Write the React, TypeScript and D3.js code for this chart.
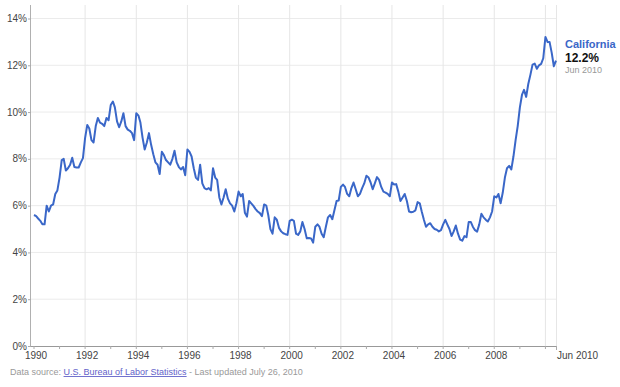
import React from "react";
import * as d3 from "d3";

// monthly unemployment rate, California (not seasonally adjusted), %
const rate1990 = [5.6, 5.55, 5.45, 5.35, 5.2, 5.2, 6.0, 5.75, 6.0, 6.05, 6.5, 6.65];
const rate1991 = [7.2, 7.95, 8.0, 7.5, 7.6, 7.75, 8.05, 7.65, 7.63, 7.63, 7.85, 8.03];
const rate1992 = [8.9, 9.45, 9.3, 8.8, 8.7, 9.4, 9.75, 9.55, 9.5, 9.4, 9.75, 9.65];
const rate1993 = [10.3, 10.45, 10.2, 9.6, 9.35, 9.6, 9.95, 9.4, 9.25, 9.2, 9.1, 8.8];
const rate1994 = [9.95, 9.85, 9.55, 8.9, 8.4, 8.7, 9.1, 8.6, 8.2, 7.85, 7.75, 7.35];
const rate1995 = [8.3, 8.15, 7.95, 7.85, 7.75, 8.0, 8.35, 7.85, 7.65, 7.55, 7.65, 7.3];
const rate1996 = [8.4, 8.3, 8.1, 7.6, 7.2, 7.1, 7.75, 6.95, 6.75, 6.7, 6.75, 6.65];
const rate1997 = [7.6, 7.2, 7.1, 6.35, 6.05, 6.35, 6.7, 6.3, 6.1, 6.0, 5.75, 6.1];
const rate1998 = [6.6, 6.4, 6.5, 5.7, 5.53, 6.2, 6.1, 5.99, 5.85, 5.75, 5.68, 5.55];
const rate1999 = [6.05, 6.0, 5.6, 5.0, 4.8, 5.5, 5.4, 5.05, 4.9, 4.82, 4.78, 4.75];
const rate2000 = [5.35, 5.4, 5.35, 4.8, 4.75, 4.9, 5.3, 5.0, 4.6, 4.62, 4.6, 4.42];
const rate2001 = [5.1, 5.2, 5.1, 4.8, 4.65, 5.1, 5.5, 5.6, 5.42, 5.8, 6.2, 6.22];
const rate2002 = [6.8, 6.9, 6.8, 6.5, 6.4, 6.75, 6.99, 6.7, 6.4, 6.5, 6.75, 6.95];
const rate2003 = [7.28, 7.2, 7.0, 6.7, 6.95, 7.22, 7.1, 6.8, 6.6, 6.56, 6.5, 6.4];
const rate2004 = [6.99, 6.9, 6.92, 6.6, 6.2, 6.35, 6.5, 6.2, 5.75, 5.72, 5.74, 5.8];
const rate2005 = [6.15, 6.1, 5.75, 5.4, 5.1, 5.2, 5.25, 5.1, 5.0, 4.97, 4.9, 4.95];
const rate2006 = [5.2, 5.39, 5.2, 5.0, 4.7, 4.9, 5.15, 4.8, 4.55, 4.5, 4.7, 4.65];
const rate2007 = [5.3, 5.3, 5.1, 4.95, 4.89, 5.2, 5.65, 5.5, 5.4, 5.32, 5.5, 5.75];
const rate2008 = [6.4, 6.35, 6.5, 6.1, 6.55, 7.2, 7.6, 7.7, 7.55, 8.1, 8.8, 9.4];
const rate2009 = [10.2, 10.75, 10.95, 10.65, 11.2, 11.6, 12.03, 12.07, 11.85, 12.0, 12.06, 12.3];
const rate2010 = [13.21, 12.99, 13.0, 12.53, 11.96, 12.2];

const yearlyRates = [
  rate1990, rate1991, rate1992, rate1993, rate1994, rate1995, rate1996,
  rate1997, rate1998, rate1999, rate2000, rate2001, rate2002, rate2003,
  rate2004, rate2005, rate2006, rate2007, rate2008, rate2009, rate2010,
];

const yTicks = [0, 2, 4, 6, 8, 10, 12, 14];
const xLabelYears = [1990, 1992, 1994, 1996, 1998, 2000, 2002, 2004, 2006, 2008];
const seriesName = "California";
const lastLabel = "Jun 2010";

const font = "Arial, 'Liberation Sans', sans-serif";

type Pt = { date: Date; value: number };

const data: Pt[] = [];
yearlyRates.forEach((arr, yi) => {
  arr.forEach((v, m) => data.push({ date: new Date(1990 + yi, m, 1), value: v }));
});

export default function App() {
  const width = 620;
  const height = 387;
  const left = 34;
  const right = 556;
  const top = 5;
  const bottom = 346;

  const x = d3
    .scaleTime()
    .domain([data[0].date, data[data.length - 1].date])
    .range([left, right]);
  const y = d3.scaleLinear().domain([0, 14]).range([bottom, 18.5]);

  const line = d3
    .line<Pt>()
    .x((d) => x(d.date))
    .y((d) => y(d.value));

  const last = data[data.length - 1];
  const years = d3.range(1990, 2011);

  return (
    <svg
      width={width}
      height={height}
      style={{ position: "absolute", left: 0, top: 0, background: "#fff" }}
      fontFamily={font}
    >
      {/* horizontal grid */}
      {yTicks.slice(1).map((t) => (
        <line key={"h" + t} x1={left - 3} x2={right + 1} y1={y(t)} y2={y(t)} stroke="#ebebeb" />
      ))}
      {/* vertical grid */}
      {xLabelYears.slice(1).concat([2010]).map((yr) => (
        <line
          key={"v" + yr}
          x1={x(new Date(yr, 0, 1))}
          x2={x(new Date(yr, 0, 1))}
          y1={top}
          y2={bottom}
          stroke="#e6e6e6"
        />
      ))}
      <line x1={right + 0.5} x2={right + 0.5} y1={top} y2={bottom} stroke="#e6e6e6" />
      {/* axes */}
      <line x1={left - 3.5} x2={left - 3.5} y1={top} y2={bottom} stroke="#b0b0b0" />
      <line x1={left - 3.5} x2={right + 1} y1={bottom + 0.5} y2={bottom + 0.5} stroke="#999" />
      {years.map((yr) => (
        <line
          key={"t" + yr}
          x1={x(new Date(yr, 0, 1))}
          x2={x(new Date(yr, 0, 1))}
          y1={bottom}
          y2={bottom + 3}
          stroke="#aaa"
        />
      ))}
      <line x1={right + 0.5} x2={right + 0.5} y1={bottom} y2={bottom + 4} stroke="#aaa" />
      {yTicks.map((t) => (
        <g key={"yl" + t}>
          <line x1={left - 6} x2={left - 3} y1={y(t) + 0.5} y2={y(t) + 0.5} stroke="#aaa" />
          <text x={left - 7} y={y(t) + 3.5} fontSize={10} fill="#444" textAnchor="end">
            {t}%
          </text>
        </g>
      ))}
      {xLabelYears.map((yr) => (
        <text
          key={"xl" + yr}
          x={x(new Date(yr, 0, 1)) + 2}
          y={bottom + 13}
          fontSize={10}
          fill="#444"
          textAnchor="middle"
        >
          {yr}
        </text>
      ))}
      <text x={right + 1} y={bottom + 13} fontSize={10} fill="#444">
        {lastLabel}
      </text>

      <path d={line(data) ?? ""} fill="none" stroke="#3a67c8" strokeWidth={2} strokeLinejoin="round" />

      {/* end label */}
      <text x={565} y={48} fontSize={11} fontWeight="bold" fill="#3a67c8">
        {seriesName}
      </text>
      <text x={565} y={62} fontSize={12} fontWeight="bold" fill="#111">
        {d3.format(".1f")(last.value)}%
      </text>
      <text x={565} y={73} fontSize={9} fill="#999">
        {lastLabel}
      </text>

      {/* source */}
      <text x={10} y={375} fontSize={9} fill="#999">
        Data source:{" "}
        <tspan fill="#6262c9" textDecoration="underline">
          U.S. Bureau of Labor Statistics
        </tspan>
        <tspan> - Last updated July 26, 2010</tspan>
      </text>
    </svg>
  );
}
